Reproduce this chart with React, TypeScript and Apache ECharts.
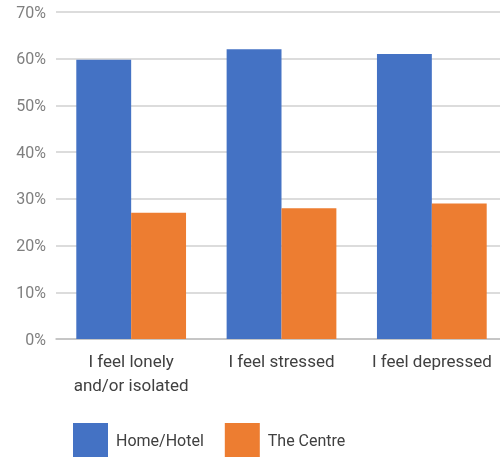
import React, { useEffect, useRef } from "react";
import * as echarts from "echarts";

const categories = ["I feel lonely\nand/or isolated", "I feel stressed", "I feel depressed"];
const homeHotel = [59.8, 62, 61];
const theCentre = [27, 28, 29];
const seriesNames = ["Home/Hotel", "The Centre"];

export default function App() {
  const ref = useRef<HTMLDivElement>(null);
  useEffect(() => {
    const chart = echarts.init(ref.current!, null, { renderer: "svg" });
    const font = "Roboto";
    chart.setOption({
      animation: false,
      textStyle: { fontFamily: font },
      grid: { left: 56, top: 12, right: 0, bottom: 118, containLabel: false },
      legend: {
        left: 68,
        top: 418,
        itemWidth: 35,
        itemHeight: 34,
        itemGap: 21,
        icon: "rect",
        data: seriesNames,
        textStyle: { color: "#404040", fontSize: 16, fontFamily: font, padding: [0, 0, 0, 3] },
      },
      xAxis: {
        type: "category",
        data: categories,
        axisLine: { lineStyle: { color: "#bfbfbf", width: 1.5 } },
        axisTick: { show: false },
        axisLabel: { color: "#404040", fontSize: 17, fontFamily: font, lineHeight: 24, margin: 10, interval: 0 },
      },
      yAxis: {
        type: "value",
        min: 0,
        max: 70,
        interval: 10,
        axisLine: { show: false },
        axisTick: { show: false },
        splitLine: { lineStyle: { color: "#d0d0d0", width: 1.5 } },
        axisLabel: { color: "#7f7f7f", fontSize: 16, fontFamily: font, formatter: "{value}%", margin: 10 },
      },
      series: [
        {
          name: seriesNames[0],
          type: "bar",
          data: homeHotel,
          itemStyle: { color: "#4472C4" },
          barGap: "0%",
          barCategoryGap: "27%",
        },
        {
          name: seriesNames[1],
          type: "bar",
          data: theCentre,
          itemStyle: { color: "#ED7D31" },
          barGap: "0%",
          barCategoryGap: "27%",
        },
      ],
    });
    return () => chart.dispose();
  }, []);
  return (
    <div style={{ width: 500, height: 457, position: "fixed", left: 0, top: 0, overflow: "hidden" }}>
      <div ref={ref} style={{ width: 507, height: 457 }} />
    </div>
  );
}
